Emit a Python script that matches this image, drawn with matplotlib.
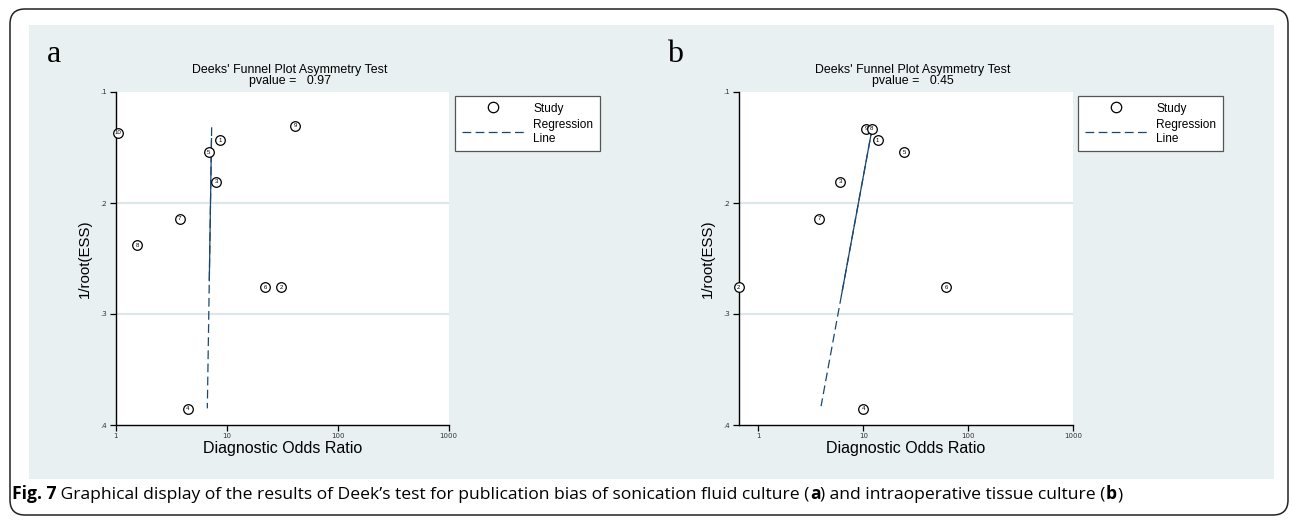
import numpy as np
import matplotlib
matplotlib.use("Agg")
import matplotlib.pyplot as plt
from matplotlib.patches import Rectangle, FancyBboxPatch
from matplotlib.lines import Line2D

# study data
ids_a = ["1", "2", "3", "4", "5", "6", "7", "8", "9", "10"]
dor_a = [8.76, 31.0, 8.01, 4.48, 6.88, 22.3, 3.77, 1.56, 41.5, 1.04]
ess_a = [0.1435, 0.2757, 0.1807, 0.3852, 0.1543, 0.2757, 0.214, 0.238, 0.1303, 0.1366]
reg_a_x = [7.32, 6.69]
reg_a_y = [0.1318, 0.385]
solid_a_y = [0.142, 0.27]
pval_a = "0.97"

ids_b = ["1", "2", "3", "4", "5", "6", "7", "9", "8"]
dor_b = [13.7, 0.65, 6.04, 10.0, 24.6, 61.4, 3.79, 10.6, 12.0]
ess_b = [0.1435, 0.2757, 0.1807, 0.3852, 0.1543, 0.2757, 0.214, 0.1333, 0.1333]
reg_b_x = [12.2, 3.96]
reg_b_y = [0.1318, 0.383]
solid_b_y = [0.1318, 0.283]
pval_b = "0.45"

yticks = [0.1, 0.2, 0.3, 0.4]
ytick_labels = [".1", ".2", ".3", ".4"]
xticks = [1, 10, 100, 1000]
xtick_labels = ["1", "10", "100", "1000"]

bg = "#e9f0f2"
grid_c = "#dde7eb"
navy = "#1a476f"
sans = ["Liberation Sans", "DejaVu Sans"]

W, H = 1292, 520
fig = plt.figure(figsize=(W / 100, H / 100), dpi=100)
fig.patch.set_facecolor("white")

# outer rounded border and light background
fig.patches.append(FancyBboxPatch((0.10, 0.05), 12.78, 5.06, boxstyle="round,pad=0,rounding_size=0.15",
                                  transform=fig.dpi_scale_trans, fc="none", ec="#222222", lw=1.1, zorder=-6))
fig.patches.append(Rectangle((29 / W, 1 - 479 / H), 1245 / W, 454 / H, transform=fig.transFigure,
                             fc=bg, ec="none", zorder=-5))


def panel(left, xlim, letter, letter_x, ids, dor, ess, rx, ry, sy, pval, legend_left):
    ax = fig.add_axes([left / W, 1 - 425 / H, (xlim[2]) / W, 333 / H])
    ax.set_facecolor("white")
    ax.set_xscale("log")
    ax.set_xlim(xlim[0], xlim[1])
    ax.set_ylim(0.4, 0.1)
    ax.set_yticks(yticks)
    ax.set_yticklabels(ytick_labels)
    ax.set_xticks(xticks)
    ax.set_xticklabels(xtick_labels)
    ax.xaxis.set_minor_locator(matplotlib.ticker.NullLocator())
    ax.tick_params(length=4, width=0.9, labelsize=5, labelcolor="#333333", pad=2)
    for s in ["top", "right"]:
        ax.spines[s].set_visible(False)
    for s in ["left", "bottom"]:
        ax.spines[s].set_linewidth(1.0)
    for g in [0.2, 0.3]:
        ax.axhline(g, color=grid_c, lw=1.6, zorder=0)

    # regression line: dashed over full range, solid where it overlaps the data
    ax.plot(rx, ry, color=navy, lw=0.9, ls=(0, (7, 3.5)), zorder=2)
    lx = np.log10(rx)
    sx = 10 ** np.interp(sy, ry, lx)
    ax.plot(sx, sy, color=navy, lw=0.9, zorder=2)

    ax.scatter(dor, ess, s=48, facecolors="white", edgecolors="black", linewidths=0.9, zorder=3, clip_on=False)
    for i, x, y in zip(ids, dor, ess):
        ax.text(x, y, i, fontsize=4.4, ha="center", va="center", family=sans, zorder=4, clip_on=False)

    ax.set_xlabel("Diagnostic Odds Ratio", fontsize=11.5, family=sans, labelpad=1)
    ax.set_ylabel("1/root(ESS)", fontsize=10.8, family=sans, labelpad=6)

    cx = left + 174
    fig.text(cx / W, 1 - 70 / H, "Deeks' Funnel Plot Asymmetry Test", fontsize=8.9, family=sans,
             ha="center", va="center")
    fig.text(cx / W, 1 - 81 / H, "pvalue =   " + pval, fontsize=8.9, family=sans, ha="center", va="center")
    fig.text(letter_x / W, 1 - 62 / H, letter, fontsize=23, family=["Liberation Serif", "DejaVu Serif"],
             ha="center", va="baseline")

    handles = [Line2D([], [], marker="o", ls="none", mfc="white", mec="black", mew=0.9, ms=7.5),
               Line2D([], [], color=navy, lw=0.9, ls=(0, (7, 3.5)))]
    leg = fig.legend(handles, ["Study", "Regression\nLine"], loc="upper left",
                     bbox_to_anchor=(legend_left / W, 1 - 96 / H), fancybox=False, framealpha=1,
                     edgecolor="#555555", prop={"family": sans, "size": 8.6}, handlelength=5.2,
                     borderpad=0.55, labelspacing=0.35, handletextpad=0.8, borderaxespad=0)
    leg.get_frame().set_linewidth(0.9)
    return ax


ax_a = panel(115.7, (1, 1000, 333), "a", 54, ids_a, dor_a, ess_a, reg_a_x, reg_a_y, solid_a_y, pval_a, 455)
panel(738.7, (0.65, 1000, 334.5), "b", 675, ids_b, dor_b, ess_b, reg_b_x, reg_b_y, solid_b_y, pval_b, 1078)

# caption with bold pieces
cap_font = ["Open Sans", "DejaVu Sans"]
cap_size = 12.6
pieces = [("Fig. 7", "bold"),
          (" Graphical display of the results of Deek\u2019s test for publication bias of sonication fluid culture (", "normal"),
          ("a", "bold"),
          (") and intraoperative tissue culture (", "normal"),
          ("b", "bold"),
          (")", "normal")]
yb = 1 - 499 / H
prev = fig.text(12 / W, yb, pieces[0][0], fontsize=cap_size, weight=pieces[0][1], family=cap_font, va="baseline")
for txt, wt in pieces[1:]:
    prev = ax_a.annotate(txt, xy=(1, yb), xycoords=(prev, "figure fraction"), fontsize=cap_size, weight=wt,
                         family=cap_font, va="baseline", ha="left", annotation_clip=False)

fig.savefig("out.png", dpi=100, facecolor="white")
